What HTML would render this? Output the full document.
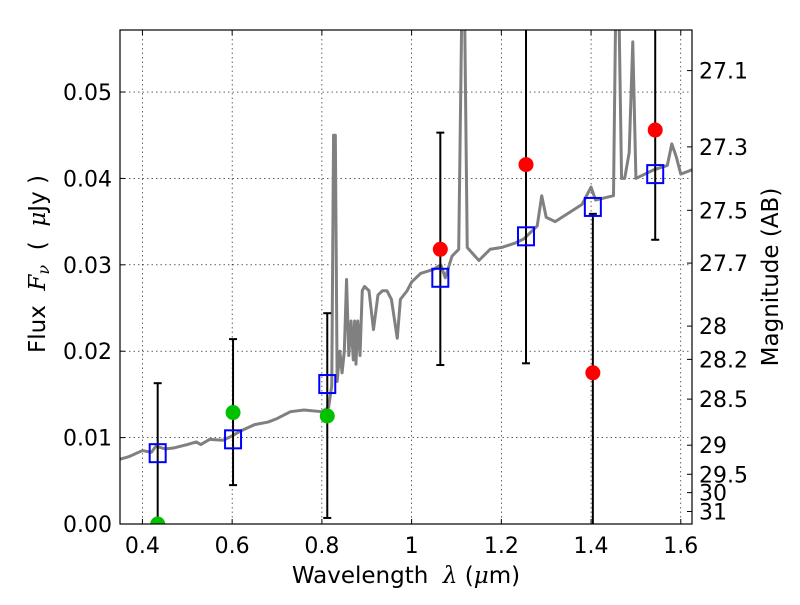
<!DOCTYPE html>
<html><head><meta charset="utf-8"><style>
body{margin:0;background:#fff;width:800px;height:600px;overflow:hidden}
svg text{font-family:"DejaVu Sans","Liberation Sans",sans-serif;fill:#000}
</style></head><body>
<svg id="c" width="800" height="600" xmlns="http://www.w3.org/2000/svg"></svg>
<script>
const specX=[0.35,0.37,0.40,0.42,0.43,0.45,0.47,0.50,0.52,0.53,0.55,0.58,0.60,0.62,0.65,0.68,0.70,0.73,0.76,0.80,0.815,0.822,0.826,0.830,0.834,0.84,0.845,0.85,0.855,0.860,0.865,0.87,0.873,0.876,0.88,0.885,0.89,0.895,0.905,0.915,0.925,0.935,0.945,0.955,0.968,0.975,0.99,1.0,1.02,1.05,1.065,1.075,1.09,1.105,1.112,1.118,1.124,1.15,1.175,1.2,1.23,1.25,1.28,1.29,1.30,1.32,1.35,1.38,1.40,1.41,1.45,1.455,1.462,1.468,1.475,1.485,1.493,1.50,1.54,1.57,1.58,1.59,1.60,1.625];
const specY=[0.0075,0.0078,0.0085,0.0083,0.009,0.0087,0.0088,0.0092,0.0095,0.0092,0.0098,0.0097,0.0102,0.0108,0.0115,0.0118,0.0122,0.013,0.0132,0.013,0.0135,0.016,0.045,0.045,0.0165,0.02,0.0175,0.02,0.0283,0.0195,0.0235,0.019,0.0235,0.0185,0.0235,0.0195,0.027,0.0275,0.027,0.0225,0.0265,0.027,0.027,0.026,0.0215,0.026,0.027,0.028,0.029,0.0295,0.030,0.0285,0.031,0.0318,0.060,0.060,0.032,0.0305,0.0318,0.032,0.0325,0.033,0.0345,0.038,0.0355,0.035,0.036,0.037,0.039,0.0375,0.038,0.060,0.060,0.040,0.040,0.043,0.0558,0.040,0.041,0.0415,0.044,0.0425,0.0405,0.041];
const bandX=[0.434,0.602,0.812,1.064,1.255,1.404,1.543];
const modelF=[0.0082,0.0098,0.0162,0.0285,0.0333,0.0367,0.0405];
const obsF=[0.0,0.0129,0.0125,0.0318,0.0416,0.0175,0.0456];
const errLo=[0.0,0.0045,0.0007,0.0184,0.0186,-0.005,0.0329];
const errHi=[0.0163,0.0214,0.0244,0.0453,0.07,0.0359,0.07];
const obsColor=["#00c000","#00c000","#00c000","#ff0000","#ff0000","#ff0000","#ff0000"];
const xTicks=[0.4,0.6,0.8,1.0,1.2,1.4,1.6];
const xTickLabels=["0.4","0.6","0.8","1","1.2","1.4","1.6"];
const yTicks=[0,0.01,0.02,0.03,0.04,0.05];
const yTickLabels=["0.00","0.01","0.02","0.03","0.04","0.05"];
const magTicks=[27.1,27.3,27.5,27.7,28,28.2,28.5,29,29.5,30,31];

const L=120,R=692,T=30,B=524,X0=0.35,X1=1.625,Y0=0,Y1=0.05718;
const sx=v=>L+(v-X0)/(X1-X0)*(R-L);
const sy=v=>B-(v-Y0)/(Y1-Y0)*(B-T);
const svg=document.getElementById('c');
const NS='http://www.w3.org/2000/svg';
function mk(t,a,p){const e=document.createElementNS(NS,t);for(const k in a)e.setAttribute(k,a[k]);(p||svg).appendChild(e);return e;}
const defs=mk('defs',{});const cp=mk('clipPath',{id:'clip'},defs);mk('rect',{x:L,y:T,width:R-L,height:B-T},cp);
xTicks.forEach((v,i)=>{
 const g=mk('line',{x1:sx(v),x2:sx(v),y1:T,y2:B,stroke:'#000','stroke-width':0.6,'stroke-dasharray':'1.5,3'});
 
 mk('line',{x1:sx(v),x2:sx(v),y1:B,y2:B-5,stroke:'#000'});mk('line',{x1:sx(v),x2:sx(v),y1:T,y2:T+5,stroke:'#000'});
 const t=mk('text',{x:sx(v),y:B+29,'text-anchor':'middle','font-size':22});t.textContent=xTickLabels[i];
 
});
yTicks.forEach((v,i)=>{
 const g=mk('line',{x1:L,x2:R,y1:sy(v),y2:sy(v),stroke:'#000','stroke-width':0.6,'stroke-dasharray':'1.5,3'});
 
 mk('line',{x1:L,x2:L+5,y1:sy(v),y2:sy(v),stroke:'#000'});
 const t=mk('text',{x:L-8,y:sy(v)+8,'text-anchor':'end','font-size':22});t.textContent=yTickLabels[i];
 
});
magTicks.forEach(m=>{
 const f=Math.pow(10,(23.9-m)/2.5);const y=sy(f);
 mk('line',{x1:R,x2:R-5,y1:y,y2:y,stroke:'#000'});
 const t=mk('text',{x:R+7,y:y+8,'font-size':22});t.textContent=String(m);
 
});
const g=mk('g',{'clip-path':'url(#clip)'});
const sp=mk('polyline',{points:specX.map((x,i)=>sx(x)+','+sy(specY[i])).join(' '),fill:'none',stroke:'#808080','stroke-width':3,'stroke-linejoin':'round'},g);

bandX.forEach((x,i)=>{
 const e=mk('line',{x1:sx(x),x2:sx(x),y1:sy(errLo[i]),y2:sy(errHi[i]),stroke:'#000','stroke-width':2},g);
 
 [errLo[i],errHi[i]].forEach(v=>mk('line',{x1:sx(x)-4,x2:sx(x)+4,y1:sy(v),y2:sy(v),stroke:'#000','stroke-width':2},g));
});
bandX.forEach((x,i)=>{
 const r=mk('rect',{x:sx(x)-8,y:sy(modelF[i])-9,width:16,height:18,fill:'none',stroke:'#0000ff','stroke-width':2},g);
 
 const c=mk('circle',{cx:sx(x),cy:sy(obsF[i]),r:7.5,fill:obsColor[i]},g);
 
});
const fr=mk('rect',{x:L,y:T,width:R-L,height:B-T,fill:'none',stroke:'#000','stroke-width':1.2});

</script>
<svg width="800" height="600" style="position:absolute;left:0;top:0">
<text x="406" y="583" text-anchor="middle" font-size="23" xml:space="preserve" style="font-family:'DejaVu Sans',sans-serif">Wavelength  <tspan font-style="italic" font-family="DejaVu Serif,serif">λ</tspan> (<tspan font-style="italic" font-family="DejaVu Serif,serif">μ</tspan>m)</text>
<text transform="translate(45,264) rotate(-90)" text-anchor="middle" font-size="23" xml:space="preserve" style="font-family:'DejaVu Sans',sans-serif">Flux  <tspan font-style="italic" font-family="DejaVu Serif,serif">F<tspan font-size="16" dy="4">ν</tspan></tspan><tspan dy="-4">  (  </tspan><tspan font-style="italic" font-family="DejaVu Serif,serif">μ</tspan>Jy )</text>
<text transform="translate(778,277) rotate(-90)" text-anchor="middle" font-size="23" style="font-family:'DejaVu Sans',sans-serif">Magnitude (AB)</text>
</svg>
</body></html>
